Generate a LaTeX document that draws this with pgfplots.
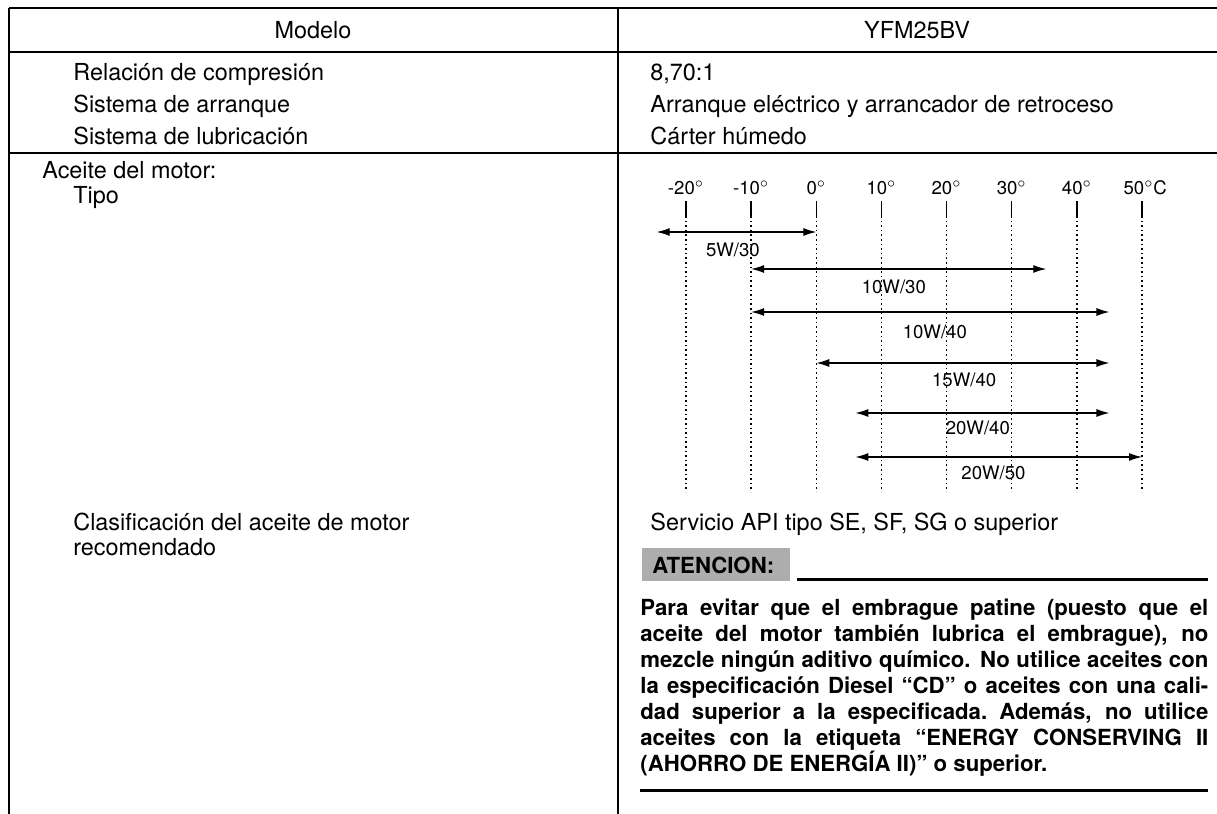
\documentclass[border=0pt]{standalone}
\usepackage{pgfplots}
\pgfplotsset{compat=1.18}
\usetikzlibrary{arrows.meta}
\usepackage{fontspec}
\setmainfont{TeX Gyre Heros}
\newcommand\mainsize{\fontsize{11.7pt}{14pt}\selectfont}
\newcommand\boldsize{\fontsize{11.1pt}{13pt}\selectfont\bfseries}
\newcommand\chartsize{\fontsize{9.3pt}{11pt}\selectfont}
\newcommand\bline[1]{\makebox[284pt][s]{#1}}
\begin{document}
\begin{tikzpicture}
\begin{scope}[x=0.5pt,y=-0.5pt]
\path[use as bounding box] (0,0) rectangle (1217,814);
% table rules
\draw[line width=1.35pt] (9,8) -- (1217,8);
\draw[line width=0.85pt] (9,8) -- (9,814);
\draw[line width=0.85pt] (618,8) -- (618,814);
\draw[line width=0.65pt] (9,52) -- (1217,52);
\draw[line width=0.85pt] (9,153) -- (1217,153);
% header
\node[anchor=base,inner sep=0] at (313,38) {\mainsize Modelo};
\node[anchor=base,inner sep=0] at (917,38) {\mainsize YFM25BV};
% rows
\node[anchor=base west,inner sep=0] at (73,80) {\mainsize Relación de compresión};
\node[anchor=base west,inner sep=0] at (73,112) {\mainsize Sistema de arranque};
\node[anchor=base west,inner sep=0] at (73,144) {\mainsize Sistema de lubricación};
\node[anchor=base west,inner sep=0] at (650,80) {\mainsize 8,70:1};
\node[anchor=base west,inner sep=0] at (650,112) {\mainsize Arranque eléctrico y arrancador de retroceso};
\node[anchor=base west,inner sep=0] at (650,144) {\mainsize Cárter húmedo};
\node[anchor=base west,inner sep=0] at (42,178) {\mainsize Aceite del motor:};
\node[anchor=base west,inner sep=0] at (73,203) {\mainsize Tipo};
\node[anchor=base west,inner sep=0] at (73,530) {\mainsize Clasificación del aceite de motor};
\node[anchor=base west,inner sep=0] at (73,555) {\mainsize recomendado};
\node[anchor=base west,inner sep=0] at (650,530) {\mainsize Servicio API tipo SE, SF, SG o superior};
% ATENCION block
\fill[black!32] (642,548) rectangle (790,581);
\node[anchor=base west,inner sep=0] at (652,573) {\boldsize ATENCION:};
\draw[line width=1.5pt] (797,579) -- (1208,579);
\node[anchor=base west,inner sep=0] at (640,615) {\boldsize\bline{Para evitar que el embrague patine (puesto que el}};
\node[anchor=base west,inner sep=0] at (640,641) {\boldsize\bline{aceite del motor también lubrica el embrague), no}};
\node[anchor=base west,inner sep=0] at (640,667) {\boldsize\bline{mezcle ningún aditivo químico. No utilice aceites con}};
\node[anchor=base west,inner sep=0] at (640,693) {\boldsize\bline{la especificación Diesel “CD” o aceites con una cali-}};
\node[anchor=base west,inner sep=0] at (640,719) {\boldsize\bline{dad superior a la especificada.\ Además, no utilice}};
\node[anchor=base west,inner sep=0] at (640,745) {\boldsize\bline{aceites con la etiqueta “ENERGY CONSERVING II}};
\node[anchor=base west,inner sep=0] at (640,771) {\boldsize (AHORRO DE ENERGÍA II)” o superior.};
\draw[line width=1.5pt] (640,790) -- (1208,790);
\end{scope}
% chart: x = temperature, y = minus pixel row
\begin{axis}[at={(309pt,-407pt)}, anchor=south west, scale only axis,
  width=299.5pt, height=407pt,
  xmin=-30.44, xmax=61.51, ymin=-814, ymax=0,
  hide axis, clip=false,
  every node near coord/.append style={anchor=center, font=\chartsize, inner sep=0pt, text=black}]
% dotted guide lines
\pgfplotsinvokeforeach{-20,-10,0,10,20,30,40,50}{
  \addplot[black, line width=0.7pt, dash pattern=on 0.8pt off 1.5pt] coordinates {(#1,-216) (#1,-492)};
  \addplot[black, line width=0.7pt] coordinates {(#1,-201) (#1,-216)};
}
% temperature labels
\addplot[draw=none, mark=none, nodes near coords, point meta=explicit symbolic] coordinates {
  (-20,-188) [{-20$^{\circ}$}]
  (-10,-188) [{-10$^{\circ}$}]
  (0,-188) [{0$^{\circ}$}]
  (10,-188) [{10$^{\circ}$}]
  (20,-188) [{20$^{\circ}$}]
  (30,-188) [{30$^{\circ}$}]
  (40,-188) [{40$^{\circ}$}]
  (50.5,-188) [{50$^{\circ}$C}]
};
% viscosity ranges
\tikzset{rng/.style={black, line width=0.6pt, {Latex[length=6.5pt,width=4pt]}-{Latex[length=6.5pt,width=4pt]}}}
\addplot[rng] coordinates {(-24.5,-232) (0,-232)};
\addplot[rng] coordinates {(-10,-269) (35.3,-269)};
\addplot[rng] coordinates {(-10,-312) (45,-312)};
\addplot[rng] coordinates {(0,-363) (45,-363)};
\addplot[rng] coordinates {(6,-413) (45,-413)};
\addplot[rng] coordinates {(6,-457) (50,-457)};
\addplot[draw=none, mark=none, nodes near coords, point meta=explicit symbolic] coordinates {
  (-12.8,-250) [5W/30]
  (11.9,-287) [10W/30]
  (18.2,-332) [10W/40]
  (22.7,-380) [15W/40]
  (24.8,-428) [20W/40]
  (27.2,-473) [20W/50]
};
\end{axis}
\end{tikzpicture}
\end{document}
